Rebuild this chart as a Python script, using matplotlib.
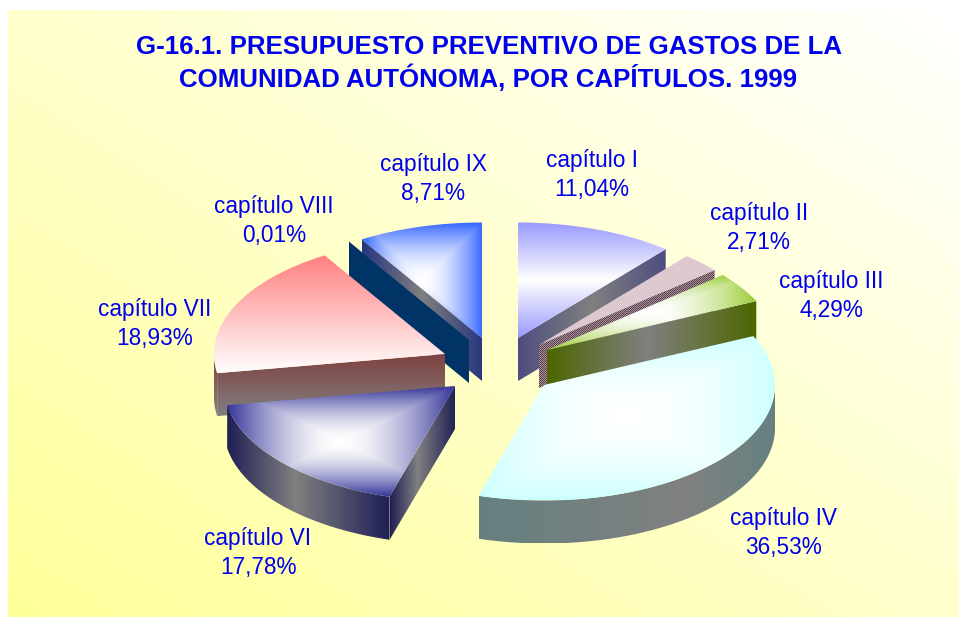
import numpy as np
import matplotlib
matplotlib.use("Agg")
import matplotlib.pyplot as plt
from matplotlib.patches import Polygon
from matplotlib.colors import to_rgb

# ---- data ----
chapters = ["capítulo I", "capítulo II", "capítulo III", "capítulo IV",
            "capítulo VI", "capítulo VII", "capítulo VIII", "capítulo IX"]
shares = [11.04, 2.71, 4.29, 36.53, 17.78, 18.93, 0.01, 8.71]
title_lines = ["G-16.1. PRESUPUESTO PREVENTIVO DE GASTOS DE LA",
               "COMUNIDAD AUTÓNOMA, POR CAPÍTULOS. 1999"]

# ---- layout (pixels of the 959x618 canvas) ----
W, H = 959, 618
YS = 2.0                      # data units per vertical pixel: flattens the pie to an ellipse
PIE_CX, PIE_CY, RADIUS, DEPTH = 500, 360, 231, 43
slice_shift = [(18, -22), (39, -15), (47, -10), (44, 25),
               (-45, 26), (-55, -6), (-31, -20), (-18, -22)]
label_xy = [(592, 175), (759, 228), (831, 296), (783, 533),
            (258, 553), (155, 324), (274, 221), (433, 179)]
draw_order = [7, 6, 0, 1, 2, 5, 4, 3]

# ---- styles: (mode, colour at t=0, colour at t=1) for top / side ----
top_style = [("axial_y", "#ffffff", "#9999ff"),
             ("checker", "#d8c2ca", "#e2d0d6"),
             ("box", "#ffffff", "#99cc33"),
             ("box", "#ffffff", "#ccffff"),
             ("box", "#ffffff", "#333399"),
             ("down", "#ff8080", "#ffffff"),
             ("box", "#ffffff", "#003366"),
             ("box", "#ffffff", "#3366ff")]
side_style = [("axial_x", "#808080", "#4d4d80"),
              ("checker", "#5a3d4a", "#a8929c"),
              ("axial_x", "#808080", "#4d6600"),
              ("axial_x", "#808080", "#668080"),
              ("axial_x", "#808080", "#1f1f55"),
              ("down", "#804040", "#808080"),
              ("axial_x", "#003366", "#003366"),
              ("axial_x", "#808080", "#26367f")]
side_peak = [0.5, 0.5, 0.48, 0.7, 0.42, 0.5, 0.5, 0.5]   # where the side's highlight sits
BOX_GAMMA = 1.7

plt.rcParams["font.family"] = ["Liberation Sans", "DejaVu Sans"]
fig = plt.figure(figsize=(W / 100, H / 100), dpi=100, facecolor="white")
ax = fig.add_axes([0, 0, 1, 1])


def yd(py):
    return -YS * py


def paint(mode, c0, c1, x0, x1, y0, y1, clip, z, peak=0.5):
    """Fill the bbox with a gradient and clip it to a patch."""
    c0, c1 = np.array(to_rgb(c0)), np.array(to_rgb(c1))
    if mode == "checker":
        w, h = max(int(x1 - x0), 2), max(int((y1 - y0) / YS), 2)
        jj, ii = np.meshgrid(np.arange(w), np.arange(h))
        t = ((ii + jj) % 2).astype(float)
        interp = "nearest"
    else:
        u, v = np.meshgrid(np.linspace(-1, 1, 300), np.linspace(-1, 1, 300))
        s = (u + 1) / 2
        sx = np.where(s < peak, (peak - s) / peak, (s - peak) / (1 - peak))
        t = {"box": np.maximum(np.abs(u), np.abs(v)) ** BOX_GAMMA,
             "axial_x": sx,
             "axial_y": np.abs(v),
             "down": (1 - v) / 2}[mode]
        interp = "bilinear"
    img = c0 + (c1 - c0) * t[..., None]
    im = ax.imshow(img, extent=(x0, x1, y0, y1), origin="lower", aspect="auto",
                   interpolation=interp, zorder=z)
    im.set_clip_path(clip)


def arc(c, phi1, phi2, n=120):
    a = np.radians(np.linspace(phi1, phi2, n))
    return np.column_stack([c[0] + RADIUS * np.cos(a), c[1] + RADIUS * np.sin(a)])


def side_face(pts, style, z, peak):
    d = DEPTH * YS
    poly = np.vstack([pts, (pts - [0, d])[::-1]])
    patch = Polygon(poly, closed=True, facecolor="none", edgecolor="none", zorder=z)
    ax.add_patch(patch)
    paint(*style, poly[:, 0].min(), poly[:, 0].max(), poly[:, 1].min(), poly[:, 1].max(),
          patch, z, peak)


# ---- background panel ----
u, v = np.meshgrid(np.linspace(0, 1, 300), np.linspace(0, 1, 300))
tb = (u + v) / 2
bg0, bg1 = np.array(to_rgb("#ffff99")), np.array(to_rgb("#ffffff"))
ax.imshow(bg0 + (bg1 - bg0) * tb[..., None], extent=(8, W, yd(617), yd(10)),
          origin="lower", aspect="auto", interpolation="bilinear", zorder=0)

# ---- pie: the top faces come from the library's wedges ----
wedges, _ = ax.pie(shares, startangle=90, counterclock=False, radius=RADIUS,
                   center=(PIE_CX, yd(PIE_CY)),
                   wedgeprops=dict(facecolor="none", edgecolor="none"))

for rank, i in enumerate(draw_order):
    w = wedges[i]
    z = 2 + rank * 3
    c = (PIE_CX + slice_shift[i][0], yd(PIE_CY + slice_shift[i][1]))
    w.set_center(c)
    w.set_zorder(z + 2)
    phi1, phi2 = w.theta1, w.theta2          # phi1 is the clockwise end of the slice
    rim = arc(c, phi1, phi2)
    apex = np.array([c])

    # cut faces turned toward the viewer
    if np.sin(np.radians(90 - phi1)) > 1e-6:
        side_face(np.vstack([apex, rim[:1]]), side_style[i], z, side_peak[i])
    if np.sin(np.radians(90 - phi2)) < -1e-6:
        side_face(np.vstack([apex, rim[-1:]]), side_style[i], z, side_peak[i])
    # outer rim, front half only
    lo, hi = max(phi1, -180), min(phi2, 0)
    if hi > lo:
        side_face(arc(c, lo, hi), side_style[i], z + 1, side_peak[i])

    pts = np.vstack([apex, rim])
    paint(*top_style[i], pts[:, 0].min(), pts[:, 0].max(), pts[:, 1].min(), pts[:, 1].max(), w, z + 2)

# ---- texts ----
for name, share, (x, y) in zip(chapters, shares, label_xy):
    ax.text(x, yd(y), f"{name}\n{share:.2f}%".replace(".", ","), color="#0000ee",
            fontsize=16.3, ha="center", va="center", linespacing=1.3, zorder=50)
for line, y in zip(title_lines, (54, 87)):
    ax.text(488.5, yd(y), line, color="#0000ee", fontsize=18.6, fontweight="bold",
            ha="center", va="baseline", zorder=50)

ax.set_aspect("auto")
ax.set_xlim(0, W)
ax.set_ylim(yd(H), 0)
ax.axis("off")
fig.savefig("out.png", dpi=100, facecolor="white")
